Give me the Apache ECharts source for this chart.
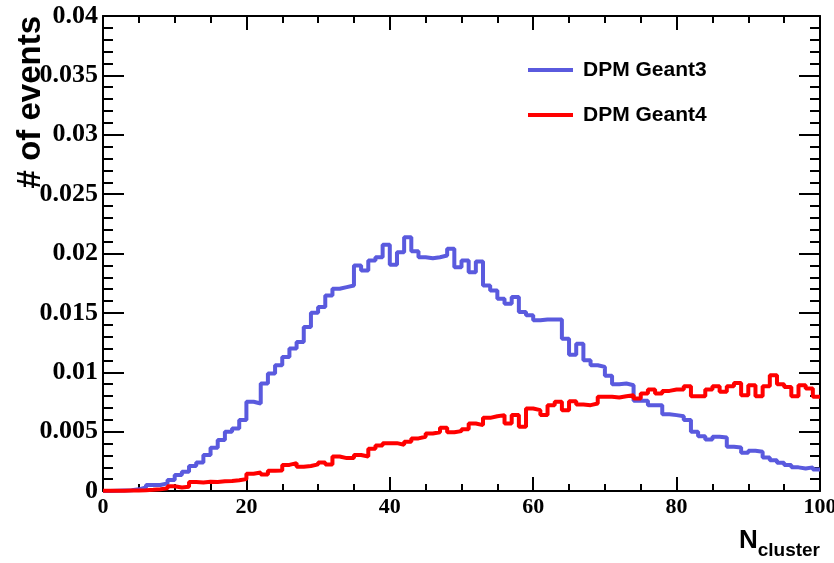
<!DOCTYPE html>
<html>
<head>
<meta charset="utf-8">
<script src="https://cdn.jsdelivr.net/npm/echarts@6/dist/echarts.min.js"></script>
<style>
html,body{margin:0;padding:0;background:#fff;}
#c{width:834px;height:563px;}
</style>
</head>
<body>
<div id="c"></div>
<script>
// Histogram bins: 100 bins of width 1 on N_cluster in [0,100].
// Values are in units of 1e-3 (# of events, normalised).
const binStart = 0;
const binWidth = 1;
const valueUnit = 1e-3;
const seriesNames = ['DPM Geant3', 'DPM Geant4'];

const geant3 = [
  0, 0.02, 0.04, 0.06, 0.14, 0.3, 0.5, 0.5, 0.64, 0.92,
  1.34, 1.62, 2.1, 2.41, 3.03, 3.64, 4.29, 4.99, 5.27, 5.97,
  7.51, 7.37, 9.05, 9.89, 10.59, 11.29, 11.99, 12.55, 13.81, 15.01,
  15.49, 16.47, 17.03, 17.17, 17.31, 18.99, 18.57, 19.41, 19.69, 20.73,
  19.05, 20.1, 21.37, 20.2, 19.69, 19.6, 19.69, 19.83, 20.39, 18.85,
  19.41, 18.43, 19.33, 17.31, 16.89, 16.19, 15.77, 16.33, 15.07, 14.79,
  14.37, 14.45, 14.45, 14.45, 12.83, 11.48, 12.41, 11.01, 10.59, 10.45,
  9.7, 8.99, 9.05, 8.91, 7.59, 7.59, 7.23, 7.23, 6.47, 6.39,
  6.3, 5.97, 4.99, 4.62, 4.34, 4.57, 4.5, 3.73, 3.67, 3.22,
  3.39, 3.31, 2.83, 2.6, 2.38, 2.18, 1.99, 1.9, 1.99, 1.82
];

const geant4 = [
  0.02, 0.02, 0.03, 0.04, 0.05, 0.07, 0.1, 0.15, 0.22, 0.4,
  0.3, 0.35, 0.75, 0.72, 0.78, 0.76, 0.82, 0.85, 0.9, 1.0,
  1.45, 1.55, 1.38, 1.7, 1.72, 2.2, 2.35, 2.04, 2.1, 2.24,
  2.41, 2.24, 2.9, 2.77, 2.77, 3.03, 2.9, 3.56, 3.84, 4.03,
  4.03, 3.9, 4.15, 4.43, 4.57, 4.85, 4.94, 5.33, 4.94, 5.04,
  5.21, 5.69, 5.55, 6.16, 6.3, 6.39, 5.69, 6.39, 5.41, 6.95,
  6.81, 6.39, 7.23, 7.51, 6.81, 7.56, 7.28, 7.23, 7.37, 7.93,
  7.93, 7.87, 7.98, 8.07, 7.79, 8.21, 8.54, 8.21, 8.43, 8.54,
  8.54, 8.82, 7.98, 7.98, 8.54, 8.82, 8.35, 8.82, 9.1, 8.07,
  8.91, 7.98, 8.82, 9.75, 8.99, 8.76, 7.98, 8.91, 8.63, 7.93
];

const xMin = 0, xMax = 100, xInterval = 20;
const yMin = 0, yMax = 0.04, yInterval = 0.005;
const xTitleMain = 'N';
const xTitleSub = 'cluster';
const yTitle = '# of events';

function toSteps(vals) {
  const pts = vals.map((v, i) => [binStart + i * binWidth, v * valueUnit]);
  pts.push([binStart + vals.length * binWidth, vals[vals.length - 1] * valueUnit]);
  return pts;
}

const blue = '#5a5ade';
const red = '#ff0000';

const tickCommon = {color: '#000', width: 2};
const serifLabel = {fontFamily: 'Liberation Serif', fontWeight: 'bold', color: '#000'};

// measure subscript width for title placement
const mctx = document.createElement('canvas').getContext('2d');
mctx.font = 'bold 19px "Liberation Sans"';
const subW = mctx.measureText(xTitleSub).width;

const chart = echarts.init(document.getElementById('c'), null, {renderer: 'canvas'});
chart.setOption({
  animation: false,
  backgroundColor: '#fff',
  grid: {left: 103, right: 14, top: 16, bottom: 72, show: false, containLabel: false, outerBoundsMode: 'none'},
  legend: {
    orient: 'vertical',
    left: 528, top: 59, padding: 0,
    itemWidth: 45, itemHeight: 4, itemGap: 23,
    icon: 'rect',
    textStyle: {fontFamily: 'Liberation Sans', fontWeight: 'bold', fontSize: 21, color: '#000', lineHeight: 22, padding: [0, 0, 0, 5]},
    data: seriesNames
  },
  xAxis: [
    {
      type: 'value', min: xMin, max: xMax, interval: xInterval, position: 'bottom',
      axisLine: {show: true, onZero: false, lineStyle: tickCommon},
      axisTick: {show: true, inside: true, length: 14, lineStyle: tickCommon},
      minorTick: {show: true, splitNumber: 4, length: 7, lineStyle: tickCommon},
      axisLabel: Object.assign({fontSize: 22, margin: 5}, serifLabel),
      splitLine: {show: false}, minorSplitLine: {show: false}
    },
    {
      type: 'value', min: xMin, max: xMax, interval: xInterval, position: 'top',
      axisLine: {show: true, onZero: false, lineStyle: tickCommon},
      axisTick: {show: true, inside: true, length: 14, lineStyle: tickCommon},
      minorTick: {show: true, splitNumber: 4, length: 7, lineStyle: tickCommon},
      axisLabel: {show: false},
      splitLine: {show: false}
    }
  ],
  yAxis: [
    {
      type: 'value', min: yMin, max: yMax, interval: yInterval, position: 'left',
      axisLine: {show: true, onZero: false, lineStyle: tickCommon},
      axisTick: {show: true, inside: true, length: 21, lineStyle: tickCommon},
      minorTick: {show: true, splitNumber: 5, length: 10, lineStyle: tickCommon},
      axisLabel: Object.assign({fontSize: 26, margin: 5}, serifLabel),
      splitLine: {show: false}
    },
    {
      type: 'value', min: yMin, max: yMax, interval: yInterval, position: 'right',
      axisLine: {show: true, onZero: false, lineStyle: tickCommon},
      axisTick: {show: true, inside: true, length: 21, lineStyle: tickCommon},
      minorTick: {show: true, splitNumber: 5, length: 10, lineStyle: tickCommon},
      axisLabel: {show: false},
      splitLine: {show: false}
    }
  ],
  series: [
    {
      name: seriesNames[0], type: 'line', step: 'end', data: toSteps(geant3),
      xAxisIndex: 0, yAxisIndex: 0, showSymbol: false, clip: false,
      lineStyle: {color: blue, width: 4}, itemStyle: {color: blue}
    },
    {
      name: seriesNames[1], type: 'line', step: 'end', data: toSteps(geant4),
      xAxisIndex: 0, yAxisIndex: 0, showSymbol: false, clip: false,
      lineStyle: {color: red, width: 4}, itemStyle: {color: red}
    }
  ],
  graphic: [
    {
      type: 'text', x: 31, y: 16, rotation: Math.PI / 2,
      style: {text: yTitle, fontFamily: 'Liberation Sans', fontWeight: 'bold', fontSize: 33,
        fill: '#000', align: 'right', verticalAlign: 'middle'}
    },
    {
      type: 'text', x: 820 - subW, y: 541,
      style: {text: xTitleMain, fontFamily: 'Liberation Sans', fontWeight: 'bold', fontSize: 26,
        fill: '#000', align: 'right', verticalAlign: 'middle'}
    },
    {
      type: 'text', x: 820, y: 551,
      style: {text: xTitleSub, fontFamily: 'Liberation Sans', fontWeight: 'bold', fontSize: 19,
        fill: '#000', align: 'right', verticalAlign: 'middle'}
    }
  ]
});
</script>
</body>
</html>
